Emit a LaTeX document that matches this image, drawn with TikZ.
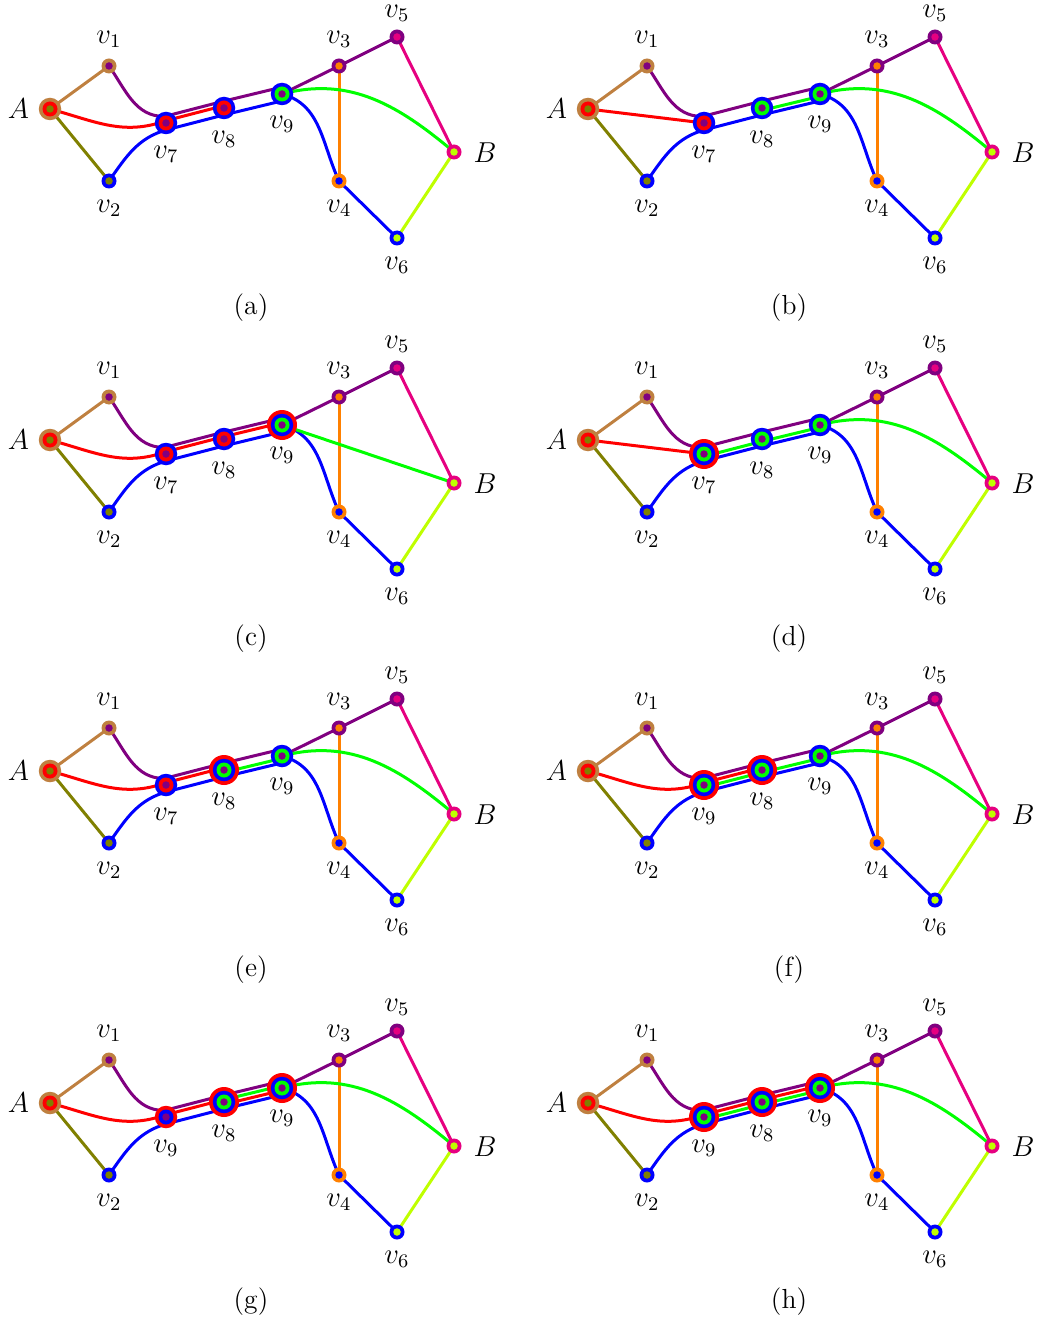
\documentclass[tikz,border=0pt]{standalone}
\usetikzlibrary{calc}
\definecolor{ctan}{RGB}{191,128,64}
\definecolor{colive}{RGB}{128,128,0}
\definecolor{cred}{RGB}{255,0,0}
\definecolor{cpurple}{RGB}{128,0,128}
\definecolor{cblue}{RGB}{0,0,255}
\definecolor{cgreen}{RGB}{0,255,0}
\definecolor{corange}{RGB}{255,128,0}
\definecolor{cpink}{RGB}{230,0,128}
\definecolor{clime}{RGB}{191,255,0}
\tikzset{
  edge/.style={line width=1.25pt},
  lbl/.style={inner sep=0pt, font=\fontsize{11.5}{13}\selectfont},
  caplbl/.style={inner sep=0pt, font=\fontsize{11.5}{13}\selectfont},
}
\newcommand\mkcoords[3]{%
  \begin{scope}[shift={(#2,#3)}]
    \coordinate (#1A) at (50,109);
    \coordinate (#1v1) at (109,66);
    \coordinate (#1v2) at (109,181);
    \coordinate (#1v7) at (166,123);
    \coordinate (#1v8) at (224,108);
    \coordinate (#1v9) at (282,94);
    \coordinate (#1v3) at (339,66);
    \coordinate (#1v4) at (339,181);
    \coordinate (#1v5) at (397,37);
    \coordinate (#1v6) at (397,238);
    \coordinate (#1B) at (454,152);
  \end{scope}}
\newcommand\mylane[5]{%
  \draw[edge,#1] ($(#2#3)!#5!90:(#2#4)$) -- ($(#2#4)!#5!-90:(#2#3)$);}
\newcommand\commonedges[1]{%
  \draw[edge,ctan] (#1A) -- (#1v1);
  \draw[edge,colive] (#1A) -- (#1v2);
  \draw[edge,cpurple] (#1v1) to[out=-55,in=180] ($(#1v7)!2.8pt!90:(#1v8)$);
  \draw[edge,cblue] (#1v2) to[out=55,in=195] ($(#1v7)!-2.8pt!90:(#1v8)$);
  \draw[edge,cpurple] (#1v9) -- (#1v3) -- (#1v5);
  \draw[edge,corange] (#1v3) -- (#1v4);
  \draw[edge,cblue] (#1v9) to[out=-15,in=115] (#1v4) -- (#1v6);
  \draw[edge,cpink] (#1v5) -- (#1B);
  \draw[edge,clime] (#1v6) -- (#1B);}
\newcommand\redcurve[1]{\draw[edge,cred] (#1A) to[out=-15,in=200] ($(#1v7)!0.95pt!90:(#1v8)$);}
\newcommand\redline[1]{\draw[edge,cred] (#1A) -- (#1v7);}
\newcommand\greencurve[1]{\draw[edge,cgreen] (#1v9) to[out=15,in=140] (#1B);}
\newcommand\vtx[3]{%
  \foreach \c [count=\i from 0] in {#3} {\fill[\c] (#1) circle ({(#2-\i)*3.75});}}
\newcommand\commonvertices[1]{%
  \vtx{#1A}{3}{ctan,cred,colive}
  \vtx{#1v1}{2}{ctan,cpurple}
  \vtx{#1v2}{2}{cblue,colive}
  \vtx{#1v3}{2}{cpurple,corange}
  \vtx{#1v4}{2}{corange,cblue}
  \vtx{#1v5}{2}{cpurple,cpink}
  \vtx{#1v6}{2}{cblue,clime}
  \vtx{#1B}{2}{cpink,clime}}
\newcommand\mylabels[5]{%
  \node[lbl] (#1lA) at ($(#1A)+(-31.5,0)$) {$A$};
  \node[lbl] (#1lB) at ($(#1B)+(31,1)$) {$B$};
  \node[lbl] (#1l1) at ($(#1v1)+(0,-27)$) {$v_1$};
  \node[lbl] (#1l2) at ($(#1v2)+(0,27)$) {$v_2$};
  \node[lbl] (#1l3) at ($(#1v3)+(0,-27)$) {$v_3$};
  \node[lbl] (#1l4) at ($(#1v4)+(0,27)$) {$v_4$};
  \node[lbl] (#1l5) at ($(#1v5)+(0,-24)$) {$v_5$};
  \node[lbl] (#1l6) at ($(#1v6)+(0,27)$) {$v_6$};
  \node[lbl] (#1l7) at ($(#1v7)+(0,31)$) {$v_{#2}$};
  \node[lbl] (#1l8) at ($(#1v8)+(0,31)$) {$v_{#3}$};
  \node[lbl] (#1l9) at ($(#1v9)+(0,30)$) {$v_{#4}$};
  \node[caplbl] (#1cap) at ($(#1A)+(201,199)$) {(#5)};}
\begin{document}
\begin{tikzpicture}[x=0.41667pt,y=-0.41667pt]
\useasboundingbox (0,0) rectangle (1038,1320);
% ---------- (a)
\mkcoords{a}{0}{0}
\commonedges{a}
\redcurve{a}
\mylane{cpurple}{a}{v7}{v8}{2.8pt}
\mylane{cred}{a}{v7}{v8}{0.95pt}
\mylane{cblue}{a}{v7}{v8}{-2.8pt}
\mylane{cpurple}{a}{v8}{v9}{2.8pt}
\mylane{cblue}{a}{v8}{v9}{-2.8pt}
\greencurve{a}
\commonvertices{a}
\vtx{av7}{3}{cblue,cred,cpurple}
\vtx{av8}{3}{cblue,cred,cpurple}
\vtx{av9}{3}{cblue,cgreen,cpurple}
\mylabels{a}{7}{8}{9}{a}
% ---------- (b)
\mkcoords{b}{538}{0}
\commonedges{b}
\redline{b}
\mylane{cpurple}{b}{v7}{v8}{2.8pt}
\mylane{cblue}{b}{v7}{v8}{-2.8pt}
\mylane{cpurple}{b}{v8}{v9}{2.8pt}
\mylane{cgreen}{b}{v8}{v9}{-0.95pt}
\mylane{cblue}{b}{v8}{v9}{-2.8pt}
\greencurve{b}
\commonvertices{b}
\vtx{bv7}{3}{cblue,cred,cpurple}
\vtx{bv8}{3}{cblue,cgreen,cpurple}
\vtx{bv9}{3}{cblue,cgreen,cpurple}
\mylabels{b}{7}{8}{9}{b}
% ---------- (c)
\mkcoords{c}{0}{331}
\commonedges{c}
\redcurve{c}
\mylane{cpurple}{c}{v7}{v8}{2.8pt}
\mylane{cred}{c}{v7}{v8}{0.95pt}
\mylane{cblue}{c}{v7}{v8}{-2.8pt}
\mylane{cpurple}{c}{v8}{v9}{2.8pt}
\mylane{cred}{c}{v8}{v9}{0.95pt}
\mylane{cblue}{c}{v8}{v9}{-2.8pt}
\draw[edge,cgreen] (cv9) -- (cB);
\commonvertices{c}
\vtx{cv7}{3}{cblue,cred,cpurple}
\vtx{cv8}{3}{cblue,cred,cpurple}
\vtx{cv9}{4}{cred,cblue,cgreen,cpurple}
\mylabels{c}{7}{8}{9}{c}
% ---------- (d)
\mkcoords{d}{538}{331}
\commonedges{d}
\redline{d}
\mylane{cpurple}{d}{v7}{v8}{2.8pt}
\mylane{cgreen}{d}{v7}{v8}{-0.95pt}
\mylane{cblue}{d}{v7}{v8}{-2.8pt}
\mylane{cpurple}{d}{v8}{v9}{2.8pt}
\mylane{cgreen}{d}{v8}{v9}{-0.95pt}
\mylane{cblue}{d}{v8}{v9}{-2.8pt}
\greencurve{d}
\commonvertices{d}
\vtx{dv7}{4}{cred,cblue,cgreen,cpurple}
\vtx{dv8}{3}{cblue,cgreen,cpurple}
\vtx{dv9}{3}{cblue,cgreen,cpurple}
\mylabels{d}{7}{8}{9}{d}
% ---------- (e)
\mkcoords{e}{0}{662}
\commonedges{e}
\redcurve{e}
\mylane{cpurple}{e}{v7}{v8}{2.8pt}
\mylane{cred}{e}{v7}{v8}{0.95pt}
\mylane{cblue}{e}{v7}{v8}{-2.8pt}
\mylane{cpurple}{e}{v8}{v9}{2.8pt}
\mylane{cgreen}{e}{v8}{v9}{-0.95pt}
\mylane{cblue}{e}{v8}{v9}{-2.8pt}
\greencurve{e}
\commonvertices{e}
\vtx{ev7}{3}{cblue,cred,cpurple}
\vtx{ev8}{4}{cred,cblue,cgreen,cpurple}
\vtx{ev9}{3}{cblue,cgreen,cpurple}
\mylabels{e}{7}{8}{9}{e}
% ---------- (f)
\mkcoords{f}{538}{662}
\commonedges{f}
\redcurve{f}
\mylane{cpurple}{f}{v7}{v8}{2.8pt}
\mylane{cred}{f}{v7}{v8}{0.95pt}
\mylane{cgreen}{f}{v7}{v8}{-0.95pt}
\mylane{cblue}{f}{v7}{v8}{-2.8pt}
\mylane{cpurple}{f}{v8}{v9}{2.8pt}
\mylane{cgreen}{f}{v8}{v9}{-0.95pt}
\mylane{cblue}{f}{v8}{v9}{-2.8pt}
\greencurve{f}
\commonvertices{f}
\vtx{fv7}{4}{cred,cblue,cgreen,cpurple}
\vtx{fv8}{4}{cred,cblue,cgreen,cpurple}
\vtx{fv9}{3}{cblue,cgreen,cpurple}
\mylabels{f}{9}{8}{9}{f}
% ---------- (g)
\mkcoords{g}{0}{994}
\commonedges{g}
\redcurve{g}
\mylane{cpurple}{g}{v7}{v8}{2.8pt}
\mylane{cred}{g}{v7}{v8}{0.95pt}
\mylane{cblue}{g}{v7}{v8}{-2.8pt}
\mylane{cpurple}{g}{v8}{v9}{2.8pt}
\mylane{cgreen}{g}{v8}{v9}{0.95pt}
\mylane{cred}{g}{v8}{v9}{-0.95pt}
\mylane{cblue}{g}{v8}{v9}{-2.8pt}
\greencurve{g}
\commonvertices{g}
\vtx{gv7}{3}{cred,cblue,cpurple}
\vtx{gv8}{4}{cred,cblue,cgreen,cpurple}
\vtx{gv9}{4}{cred,cblue,cgreen,cpurple}
\mylabels{g}{9}{8}{9}{g}
% ---------- (h)
\mkcoords{h}{538}{994}
\commonedges{h}
\redcurve{h}
\mylane{cpurple}{h}{v7}{v8}{2.8pt}
\mylane{cred}{h}{v7}{v8}{0.95pt}
\mylane{cgreen}{h}{v7}{v8}{-0.95pt}
\mylane{cblue}{h}{v7}{v8}{-2.8pt}
\mylane{cpurple}{h}{v8}{v9}{2.8pt}
\mylane{cred}{h}{v8}{v9}{0.95pt}
\mylane{cgreen}{h}{v8}{v9}{-0.95pt}
\mylane{cblue}{h}{v8}{v9}{-2.8pt}
\greencurve{h}
\commonvertices{h}
\vtx{hv7}{4}{cred,cblue,cgreen,cpurple}
\vtx{hv8}{4}{cred,cblue,cgreen,cpurple}
\vtx{hv9}{4}{cred,cblue,cgreen,cpurple}
\mylabels{h}{9}{8}{9}{h}
\end{tikzpicture}
\end{document}
